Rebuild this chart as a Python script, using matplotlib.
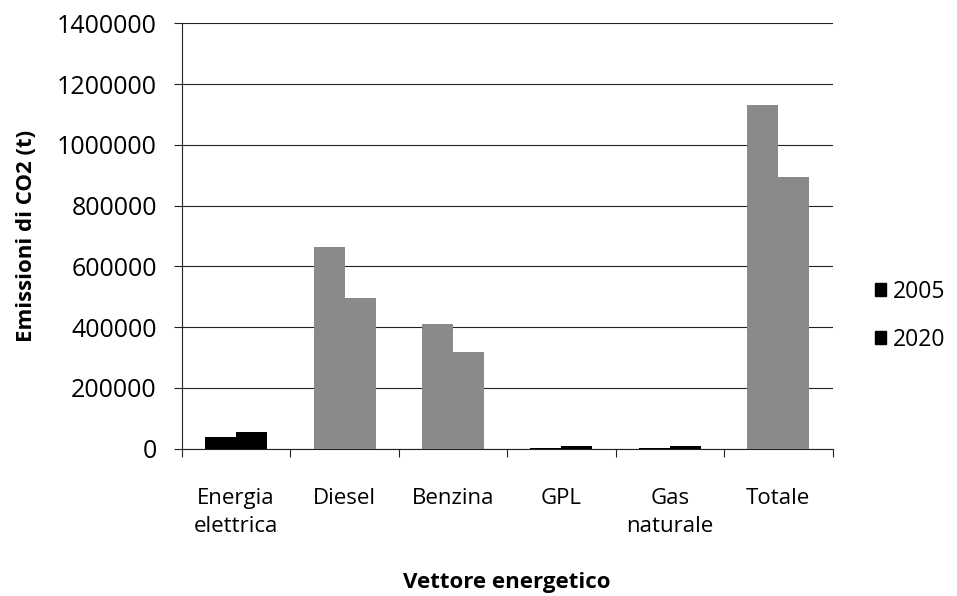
import matplotlib
matplotlib.use("Agg")
import matplotlib.pyplot as plt
import numpy as np

plt.rcParams['font.family'] = ['Open Sans', 'DejaVu Sans']

categorie = ['Energia\nelettrica', 'Diesel', 'Benzina', 'GPL', 'Gas\nnaturale', 'Totale']
anni = ['2005', '2020']
emissioni_2005 = [40000, 665000, 412000, 3000, 3000, 1130000]
emissioni_2020 = [55000, 495000, 320000, 9000, 8000, 895000]
yticks = [0, 200000, 400000, 600000, 800000, 1000000, 1200000, 1400000]

# i valori piccoli appaiono neri nella scansione, quelli grandi grigi
colori = ['black', '#8a8a8a', '#8a8a8a', 'black', 'black', '#8a8a8a']

fig = plt.figure(figsize=(9.57, 5.96), dpi=100)
ax = fig.add_axes([0.190, 0.247, 0.680, 0.714])

x = np.arange(len(categorie))
w = 0.286
ax.bar(x - w / 2, emissioni_2005, w, color=colori, zorder=3)
ax.bar(x + w / 2, emissioni_2020, w, color=colori, zorder=3)

ax.set_xlim(-0.5, len(categorie) - 0.5)
ax.set_ylim(0, 1400000)
ax.set_yticks(yticks)
ax.set_yticklabels([str(v) for v in yticks], fontsize=18)
ax.yaxis.grid(True, color='#222222', linewidth=0.8, zorder=0)

# tacche tra le categorie sull'asse x
ax.set_xticks(np.arange(len(categorie) + 1) - 0.5)
ax.set_xticklabels([])
ax.set_xticks(x, minor=True)
ax.set_xticklabels(categorie, minor=True, fontsize=16, va='top', linespacing=1.45)
ax.tick_params(axis='x', which='minor', length=0, pad=28)
ax.tick_params(axis='x', which='major', length=6, direction='out', color='#222222')
ax.tick_params(axis='y', length=6, direction='out', color='#222222', pad=12)

for s in ['top', 'right']:
    ax.spines[s].set_visible(False)
ax.spines['left'].set_color('#222222')
ax.spines['bottom'].set_color('#222222')

ax.set_ylabel('Emissioni di CO2 (t)', fontsize=16, fontweight='bold', labelpad=14)
ax.set_xlabel('Vettore energetico', fontsize=16, fontweight='bold', labelpad=25)

handles = [plt.Rectangle((0, 0), 1, 1, color='black') for _ in anni]
fig.legend(handles, anni, loc='center left', bbox_to_anchor=(0.914, 0.47),
           frameon=False, fontsize=16.5, handlelength=0.5, handleheight=0.5,
           handletextpad=0.3, labelspacing=1.05, borderpad=0, borderaxespad=0)

fig.savefig('out.png', dpi=100, facecolor='white')
